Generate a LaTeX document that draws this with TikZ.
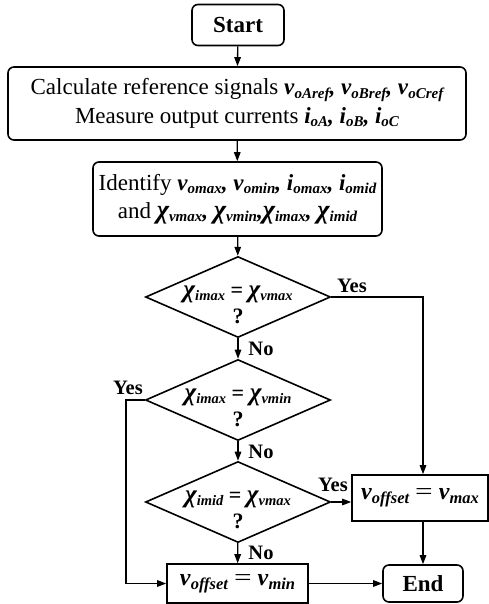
\documentclass[tikz,border=0pt]{standalone}
\usepackage{fontspec}
\setmainfont{Liberation Serif}
\usetikzlibrary{arrows.meta,shapes.geometric}
% size of subscripts, reset per node style
\newcommand\subfont{\fontsize{15}{15}\selectfont}
% bold italic symbol with a lowered bold italic subscript
\newcommand\qv[2]{\textbf{\textit{#1}}\raisebox{-0.15em}{\subfont\bfseries\itshape #2}}
\newcommand\qchi[1]{\qv{\scalebox{1.15}{χ}}{#1}}
\newcommand\bcomma{\textbf{\textit{,}}}
% wide equals sign of the assignment boxes
\newcommand\wideeq{\scalebox{1.3}[1]{=}}
\begin{document}
\begin{tikzpicture}[x=1pt,y=-1pt,
  every node/.style={font=\fontsize{23}{28.5}\selectfont},
  termbox/.style={draw,line width=1.6pt,rounded corners=6pt,inner sep=0pt,font=\fontsize{23}{28}\selectfont\bfseries},
  procbox/.style={draw,line width=1.6pt,rounded corners=6pt,inner sep=0pt,align=center},
  setbox/.style={draw,line width=1.6pt,inner sep=0pt,
    font=\fontsize{24}{28}\selectfont\def\subfont{\fontsize{16.5}{16.5}\selectfont}},
  decision/.style={draw,diamond,line width=1.6pt,inner sep=0pt,minimum width=185pt,minimum height=81pt},
  dtext/.style={anchor=base,inner sep=0pt,
    font=\fontsize{22}{22}\selectfont\bfseries\def\subfont{\fontsize{14.5}{14.5}\selectfont}},
  flow/.style={-{Triangle[length=9pt,width=6.5pt]},line width=1.3pt},
  lbl/.style={inner sep=0pt,font=\fontsize{20.5}{20.5}\selectfont\bfseries}]
\useasboundingbox (0,0) rectangle (489,604);

% terminals and process boxes
\node[termbox,minimum width=92pt,minimum height=41pt] (start) at (238,25) {Start};
\node[procbox,minimum width=458pt,minimum height=73pt] (calc) at (237,103.5)
  {Calculate reference signals \qv{v}{oAref}\bcomma{} \qv{v}{oBref}\bcomma{} \qv{v}{oCref}\\
   Measure output currents \qv{i}{oA}\bcomma{} \qv{i}{oB}\bcomma{} \qv{i}{oC}};
\node[procbox,minimum width=289pt,minimum height=74pt] (ident) at (237.5,199)
  {Identify \qv{v}{omax}\bcomma{} \qv{v}{omin}\bcomma{} \qv{i}{omax}\bcomma{} \qv{i}{omid}\\
   and \qchi{vmax}\bcomma{} \qchi{vmin}\bcomma\qchi{imax}\bcomma{} \qchi{imid}};

% decisions
\node[decision] (d1) at (238,297) {};
\node[dtext] (d1e) at (238,297) {\qchi{imax} = \qchi{vmax}};
\node[dtext] (d1q) at (238,323) {?};
\node[decision] (d2) at (238,400) {};
\node[dtext] (d2e) at (238,400) {\qchi{imax} = \qchi{vmin}};
\node[dtext] (d2q) at (238,426) {?};
\node[decision] (d3) at (238,502) {};
\node[dtext] (d3e) at (238,502) {\qchi{imid} = \qchi{vmax}};
\node[dtext] (d3q) at (238,528) {?};

% results
\node[setbox,minimum width=136pt,minimum height=46pt] (vmax) at (420,498)
  {\qv{v}{offset} \wideeq{} \qv{v}{max}};
\node[setbox,minimum width=141pt,minimum height=39pt] (vmin) at (237.5,583.5)
  {\qv{v}{offset} \wideeq{} \qv{v}{min}};
\node[termbox,minimum width=80pt,minimum height=37pt] (end) at (423,583.5) {End};

% connectors
\coordinate (bend) at (126,400);
\draw[flow] (start) -- (calc);
\draw[flow] (calc) -- (ident);
\draw[flow] (ident) -- (d1);
\draw[flow] (d1.east) -| (end.north |- vmax.north);
\draw[flow] (d1) -- (d2);
\draw[flow] (d2) -- (d3);
\draw[flow] (d2.west) -- (bend) |- (vmin.west);
\draw[flow] (d3.east) -- (d3.east -| vmax.west);
\draw[flow] (d3) -- (vmin);
\draw[flow] (end.north |- vmax.south) -- (end.north);
\draw[flow] (vmin) -- (end);

% branch labels
\node[lbl] (y1) at (352,286) {Yes};
\node[lbl] (n1) at (261,349) {No};
\node[lbl] (y2) at (128,388) {Yes};
\node[lbl] (n2) at (261,452) {No};
\node[lbl] (y3) at (333,485) {Yes};
\node[lbl] (n3) at (261,553) {No};
\end{tikzpicture}
\end{document}
